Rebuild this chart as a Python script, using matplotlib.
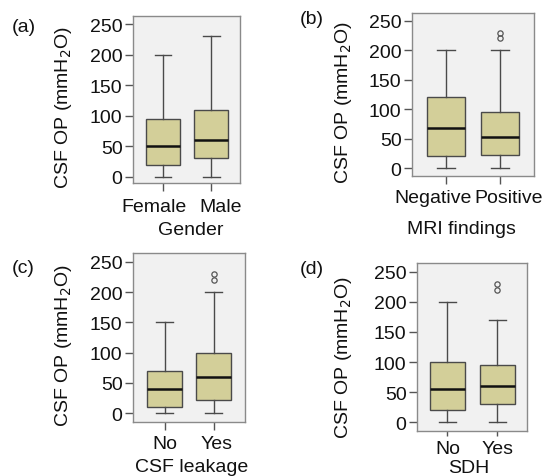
import numpy as np
import matplotlib.pyplot as plt
from matplotlib.transforms import ScaledTranslation

plt.rcParams['font.family'] = ['Liberation Sans', 'DejaVu Sans']

# values: low whisker, Q1, median, Q3, high whisker, outliers
gender_names = ["Female", "Male"]
gender_lo = [0, 0]
gender_q1 = [20, 30]
gender_med = [50, 60]
gender_q3 = [95, 110]
gender_hi = [200, 230]
gender_out = [[], []]

mri_names = ["Negative", "Positive"]
mri_lo = [0, 0]
mri_q1 = [20, 22]
mri_med = [68, 53]
mri_q3 = [120, 95]
mri_hi = [200, 200]
mri_out = [[], [220, 229]]

leak_names = ["No", "Yes"]
leak_lo = [0, 0]
leak_q1 = [10, 22]
leak_med = [40, 60]
leak_q3 = [70, 100]
leak_hi = [150, 200]
leak_out = [[], [220, 230]]

sdh_names = ["No", "Yes"]
sdh_lo = [0, 0]
sdh_q1 = [20, 30]
sdh_med = [55, 60]
sdh_q3 = [100, 95]
sdh_hi = [200, 170]
sdh_out = [[], [220, 230]]

yticks = [0, 50, 100, 150, 200, 250]

W, H = 548, 477
fig = plt.figure(figsize=(W / 100, H / 100), dpi=100)
FS = 14


def panel(rect, tag, tag_xy, names, lo, q1, med, q3, hi, out, xlabel, xlim, ylim,
          lab_xy, xlab_xy, xtick, shifts):
    ax = fig.add_axes(rect)
    ax.set_facecolor("#f1f1f1")
    stats = []
    for i in range(len(names)):
        stats.append(dict(whislo=lo[i], q1=q1[i], med=med[i], q3=q3[i],
                          whishi=hi[i], fliers=out[i], label=names[i]))
    ax.bxp(stats, positions=[1, 2], widths=0.7, patch_artist=True,
           boxprops=dict(facecolor="#d3cf99", edgecolor="#4a4a4a", linewidth=1.0),
           medianprops=dict(color="#111111", linewidth=1.8),
           whiskerprops=dict(color="#4a4a4a", linewidth=1.0),
           capprops=dict(color="#4a4a4a", linewidth=1.0),
           flierprops=dict(marker="o", markersize=3.8, markerfacecolor="none",
                           markeredgecolor="#555555", markeredgewidth=0.9))
    ax.set_xlim(*xlim)
    ax.set_ylim(*ylim)
    ax.set_yticks(yticks)
    ax.tick_params(axis="both", labelsize=FS, length=6, width=1,
                   color="#555555", labelcolor="#111111", pad=1.5)
    ax.tick_params(axis="x", length=xtick[0], pad=xtick[1])
    # spread the category names apart a little, as in the original
    for lab, dx in zip(ax.get_xticklabels(), shifts):
        lab.set_transform(lab.get_transform() + ScaledTranslation(dx / 100, 0, fig.dpi_scale_trans))
    for s in ax.spines.values():
        s.set_color("#8a8a8a")
        s.set_linewidth(1.0)
    ax.set_ylabel("CSF OP (mmH$_2$O)", fontsize=FS, color="#111111")
    ax.yaxis.set_label_coords(*lab_xy)
    ax.set_xlabel(xlabel, fontsize=FS, color="#111111")
    ax.xaxis.set_label_coords(*xlab_xy)
    ax.xaxis.label.set_verticalalignment("baseline")
    fig.text(tag_xy[0] / W, 1 - tag_xy[1] / H, tag, fontsize=FS,
             ha="left", va="top", color="#111111")
    return ax


panel([0.2427, 0.6143, 0.1953, 0.3501], "(a)", (12, 19), gender_names, gender_lo, gender_q1,
      gender_med, gender_q3, gender_hi, gender_out, "Gender",
      (0.375, 2.6), (-10.3, 263.6), (-0.55, 0.46), (0.542, -0.305), (6, 4.5), (-9, 9.5))
panel([0.7518, 0.6289, 0.2226, 0.3417], "(b)", (300, 11), mri_names, mri_lo, mri_q1,
      mri_med, mri_q3, mri_hi, mri_out, "MRI findings",
      (0.37, 2.63), (-13.6, 263), (-0.475, 0.457), (0.402, -0.35), (6, 3.2), (-13, 9))
panel([0.2427, 0.1132, 0.2044, 0.3543], "(c)", (12, 260), leak_names, leak_lo, leak_q1,
      leak_med, leak_q3, leak_hi, leak_out, "CSF leakage",
      (0.357, 2.64), (-14.4, 264.4), (-0.527, 0.46), (0.527, -0.289), (6, 3.5), (0, 3))
panel([0.7609, 0.0943, 0.2007, 0.3522], "(d)", (300, 261), sdh_names, sdh_lo, sdh_q1,
      sdh_med, sdh_q3, sdh_hi, sdh_out, "SDH",
      (0.39, 2.59), (-14.4, 264.4), (-0.573, 0.446), (0.473, -0.243), (3.5, 2.8), (0, 0))

fig.savefig("out.png", dpi=100)
